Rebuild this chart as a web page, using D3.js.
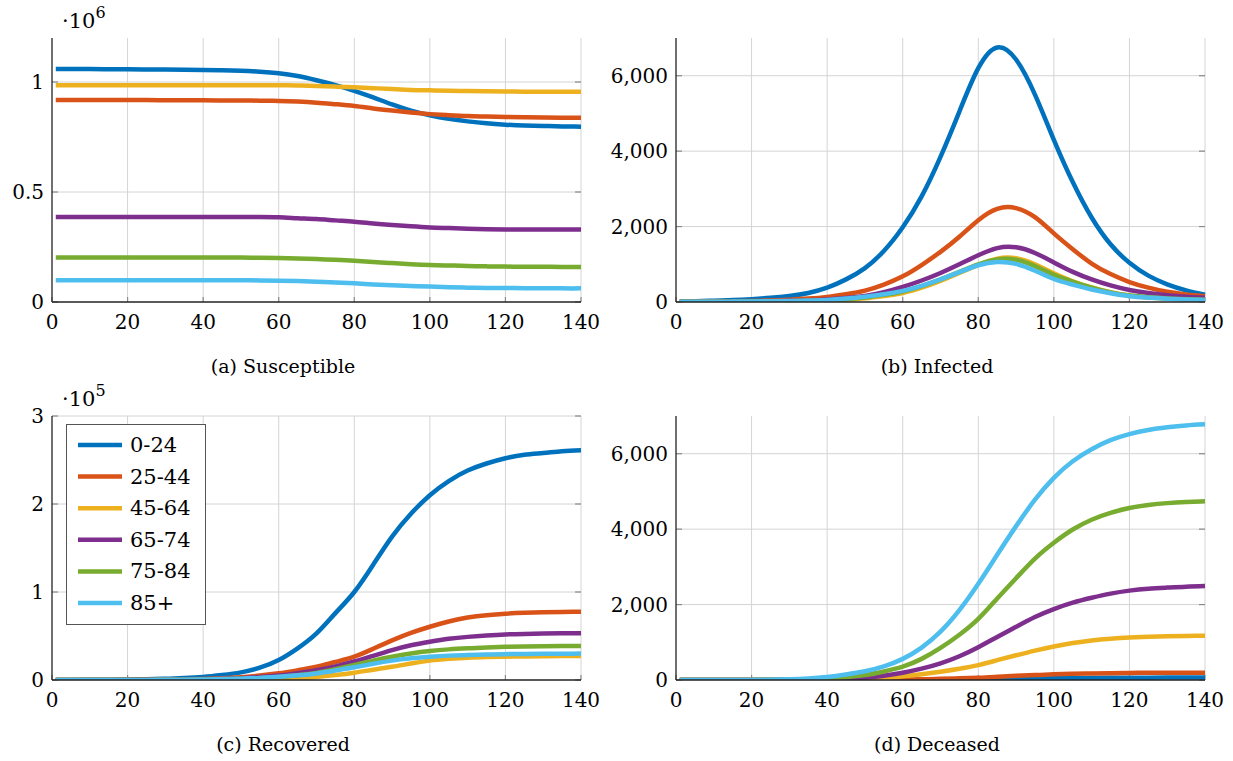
<html>
<head>
<title>SIRD by age group</title>
<script src="https://d3js.org/d3.v7.min.js" charset="utf-8"></script>
<style>
body { margin: 0; background: white; }
</style>
</head>
<body>
<script>
var days = [1,5,10,15,20,25,30,35,40,45,50,55,60,65,70,75,80,85,90,95,100,105,110,115,120,125,130,135,140];

var groups = ["0-24", "25-44", "45-64", "65-74", "75-84", "85+"];
var colors = ["#0072BD", "#D95319", "#EDB120", "#7E2F8E", "#77AC30", "#4DBEEE"];

// (a) susceptible, x 10^6
var susceptible = [
  [1.059,1.059,1.059,1.058,1.058,1.057,1.057,1.056,1.055,1.053,1.051,1.047,1.040,1.027,1.008,0.986,0.960,0.930,0.898,0.870,0.849,0.833,0.821,0.812,0.806,0.802,0.800,0.798,0.797],
  [0.918,0.918,0.918,0.918,0.918,0.918,0.917,0.917,0.917,0.916,0.916,0.915,0.914,0.911,0.906,0.899,0.891,0.880,0.870,0.861,0.854,0.849,0.845,0.843,0.841,0.840,0.839,0.838,0.838],
  [0.985,0.985,0.985,0.985,0.985,0.985,0.985,0.985,0.985,0.985,0.985,0.985,0.985,0.984,0.982,0.979,0.976,0.972,0.968,0.964,0.962,0.960,0.959,0.958,0.957,0.956,0.956,0.956,0.956],
  [0.386,0.386,0.386,0.386,0.386,0.386,0.386,0.386,0.386,0.386,0.386,0.386,0.385,0.381,0.377,0.371,0.365,0.357,0.350,0.344,0.339,0.336,0.333,0.331,0.330,0.329,0.329,0.329,0.329],
  [0.202,0.202,0.202,0.202,0.202,0.202,0.202,0.202,0.202,0.202,0.202,0.201,0.200,0.198,0.195,0.192,0.188,0.182,0.177,0.172,0.168,0.166,0.164,0.162,0.161,0.160,0.160,0.159,0.159],
  [0.099,0.099,0.099,0.099,0.099,0.099,0.099,0.099,0.099,0.099,0.099,0.098,0.097,0.095,0.092,0.089,0.085,0.080,0.076,0.073,0.070,0.067,0.065,0.064,0.064,0.063,0.063,0.062,0.062]
];
// (b) infected
var infected = [
  [15,22,35,50,75,110,160,240,380,600,900,1350,1980,2800,3850,5050,6200,6750,6430,5500,4300,3180,2240,1530,1040,700,470,310,195],
  [8,11,15,20,28,40,60,90,135,205,300,460,680,980,1330,1730,2170,2470,2490,2250,1820,1400,1020,740,530,380,270,200,150],
  [3,4,5,7,10,13,18,26,38,62,100,160,240,380,560,770,980,1150,1160,1000,760,550,385,260,170,120,90,70,55],
  [5,6,8,11,15,21,30,45,68,105,160,260,400,570,770,1000,1240,1430,1450,1300,1050,800,600,440,320,240,180,140,115],
  [4,5,6,9,12,16,22,31,45,75,120,190,280,420,600,800,1000,1130,1120,950,720,540,380,250,170,125,95,75,60],
  [5,6,8,10,14,19,26,37,55,90,140,205,295,430,600,790,975,1060,1010,830,610,460,330,230,155,115,85,68,55]
];
// (c) recovered, x 10^5
var recovered = [
  [0,0.001,0.002,0.004,0.006,0.009,0.014,0.022,0.035,0.057,0.087,0.14,0.227,0.36,0.53,0.76,1.0,1.31,1.63,1.89,2.10,2.26,2.38,2.46,2.52,2.56,2.58,2.60,2.61],
  [0,0,0.001,0.001,0.002,0.003,0.005,0.008,0.012,0.019,0.03,0.05,0.076,0.11,0.15,0.205,0.265,0.355,0.45,0.535,0.605,0.665,0.71,0.737,0.753,0.763,0.77,0.774,0.776],
  [0,0,0,0,0,0.001,0.001,0.001,0.002,0.003,0.005,0.008,0.012,0.021,0.035,0.056,0.083,0.117,0.15,0.188,0.22,0.24,0.254,0.261,0.265,0.268,0.27,0.272,0.273],
  [0,0,0,0.001,0.001,0.002,0.003,0.005,0.007,0.012,0.02,0.033,0.05,0.077,0.11,0.155,0.21,0.275,0.34,0.395,0.435,0.468,0.49,0.506,0.518,0.524,0.528,0.530,0.531],
  [0,0,0,0.001,0.001,0.001,0.002,0.003,0.005,0.009,0.014,0.023,0.035,0.055,0.08,0.122,0.17,0.22,0.265,0.302,0.33,0.348,0.36,0.370,0.377,0.381,0.384,0.385,0.386],
  [0,0,0,0.001,0.001,0.001,0.002,0.004,0.006,0.01,0.015,0.024,0.036,0.053,0.075,0.108,0.144,0.184,0.22,0.246,0.265,0.277,0.284,0.290,0.294,0.296,0.298,0.299,0.30]
];
// (d) deceased
var deceased = [
  [0,0,0,0,0,0,0,0,1,1,2,3,5,7,10,14,20,27,35,40,45,50,55,58,60,62,63,64,65],
  [0,0,0,0,0,0,1,2,3,4,6,8,12,20,30,45,60,85,110,130,150,165,175,182,188,191,193,194,195],
  [0,0,0,0,0,1,2,4,8,15,25,50,100,155,221,300,395,525,655,780,890,980,1050,1095,1125,1145,1160,1168,1174],
  [0,0,0,0,1,2,5,10,20,35,60,115,194,300,441,630,870,1140,1410,1670,1880,2050,2180,2290,2370,2420,2450,2475,2490],
  [0,0,0,1,2,5,10,20,40,75,130,225,353,560,850,1200,1620,2160,2700,3220,3640,3990,4250,4430,4560,4640,4690,4720,4740],
  [0,0,0,1,3,8,20,40,80,145,230,360,560,860,1280,1850,2550,3320,4080,4780,5360,5800,6120,6360,6520,6630,6700,6750,6780]
];

var xTicks = [0,20,40,60,80,100,120,140];
var serif = "DejaVu Serif";

var width = 1233, height = 761;
var svg = d3.select("body").append("svg")
  .attr("width", width)
  .attr("height", height);

var panels = [
  { id: "a", data: susceptible, left: 52, top: 38, ymax: 1.2, yticks: [0,0.5,1], fmt: d3.format(""), caption: "(a) Susceptible", cx: 283, exp: "6" },
  { id: "b", data: infected, left: 676, top: 38, ymax: 7000, yticks: [0,2000,4000,6000], fmt: d3.format(","), caption: "(b) Infected", cx: 937 },
  { id: "c", data: recovered, left: 52, top: 416, ymax: 3, yticks: [0,1,2,3], fmt: d3.format(""), caption: "(c) Recovered", cx: 283, exp: "5", legend: true },
  { id: "d", data: deceased, left: 676, top: 416, ymax: 7000, yticks: [0,2000,4000,6000], fmt: d3.format(","), caption: "(d) Deceased", cx: 937 }
];

var pw = 529, ph = 264;

panels.forEach(function(p) {
  var x = d3.scaleLinear().domain([0,140]).range([p.left, p.left + pw]);
  var y = d3.scaleLinear().domain([0,p.ymax]).range([p.top + ph, p.top]);
  var g = svg.append("g");

  g.append("clipPath").attr("id", "clip" + p.id)
    .append("rect").attr("x", p.left).attr("y", p.top - 3).attr("width", pw + 3).attr("height", ph + 3);

  // grid
  g.selectAll(".vg").data(xTicks.slice(1)).enter().append("line")
    .attr("x1", d => x(d)).attr("x2", d => x(d))
    .attr("y1", p.top).attr("y2", p.top + ph)
    .attr("stroke", "#d4d4d4").attr("stroke-width", 1);
  g.selectAll(".hg").data(p.yticks.slice(1)).enter().append("line")
    .attr("x1", p.left).attr("x2", p.left + pw)
    .attr("y1", d => y(d)).attr("y2", d => y(d))
    .attr("stroke", "#d4d4d4").attr("stroke-width", 1);

  // tick marks inside
  g.selectAll(".xt").data(xTicks).enter().append("line")
    .attr("x1", d => x(d)).attr("x2", d => x(d))
    .attr("y1", p.top + ph).attr("y2", p.top + ph - 5)
    .attr("stroke", "#8a8a8a").attr("stroke-width", 1.2);
  g.selectAll(".yt").data(p.yticks).enter().append("line")
    .attr("x1", p.left).attr("x2", p.left + 6)
    .attr("y1", d => y(d)).attr("y2", d => y(d))
    .attr("stroke", "#8a8a8a").attr("stroke-width", 1.2);
  g.selectAll(".yt2").data(p.yticks).enter().append("line")
    .attr("x1", p.left + pw).attr("x2", p.left + pw - 6)
    .attr("y1", d => y(d)).attr("y2", d => y(d))
    .attr("stroke", "#8a8a8a").attr("stroke-width", 1.2);

  // data lines
  var line = d3.line()
    .x((d, i) => x(days[i]))
    .y(d => y(d))
    .curve(d3.curveNatural);
  g.append("g").attr("clip-path", "url(#clip" + p.id + ")")
    .selectAll("path").data(p.data).enter().append("path")
    .attr("d", line)
    .attr("fill", "none")
    .attr("stroke", (d, i) => colors[i])
    .attr("stroke-width", 4.5);

  // axis lines, left and bottom only
  g.append("line").attr("x1", p.left).attr("x2", p.left).attr("y1", p.top).attr("y2", p.top + ph)
    .attr("stroke", "#222").attr("stroke-width", 1.3);
  g.append("line").attr("x1", p.left).attr("x2", p.left + pw).attr("y1", p.top + ph).attr("y2", p.top + ph)
    .attr("stroke", "#222").attr("stroke-width", 1.3);

  // tick labels
  g.selectAll(".xl").data(xTicks).enter().append("text")
    .attr("x", d => x(d)).attr("y", p.top + ph + 27)
    .attr("text-anchor", "middle")
    .style("font-family", serif).style("font-size", "20px")
    .text(d => d);
  g.selectAll(".yl").data(p.yticks).enter().append("text")
    .attr("x", p.left - 8).attr("y", d => y(d) + 7)
    .attr("text-anchor", "end")
    .style("font-family", serif).style("font-size", "20px")
    .text(d => p.fmt(d));

  // exponent label
  if (p.exp) {
    var e = g.append("text").attr("x", p.left + 10).attr("y", p.top - 10)
      .style("font-family", serif).style("font-size", "21px");
    e.append("tspan").text("\u00b710");
    e.append("tspan").attr("dy", -10).style("font-size", "16px").text(p.exp);
  }

  // caption
  g.append("text").attr("x", p.cx).attr("y", p.top + ph + 71)
    .attr("text-anchor", "middle")
    .style("font-family", serif).style("font-size", "19px")
    .text(p.caption);

  if (p.legend) {
    var lg = g.append("g");
    lg.append("rect").attr("x", 66.5).attr("y", 424.5).attr("width", 139).attr("height", 200)
      .attr("fill", "white").attr("stroke", "#555").attr("stroke-width", 1);
    var items = lg.selectAll(".li").data(groups).enter().append("g");
    items.append("line")
      .attr("x1", 78).attr("x2", 122)
      .attr("y1", (d, i) => 445 + i * 31.6).attr("y2", (d, i) => 445 + i * 31.6)
      .attr("stroke", (d, i) => colors[i]).attr("stroke-width", 4.5);
    items.append("text")
      .attr("x", 130).attr("y", (d, i) => 452 + i * 31.6)
      .style("font-family", serif).style("font-size", "21px")
      .text(d => d);
  }
});
</script>
</body>
</html>
